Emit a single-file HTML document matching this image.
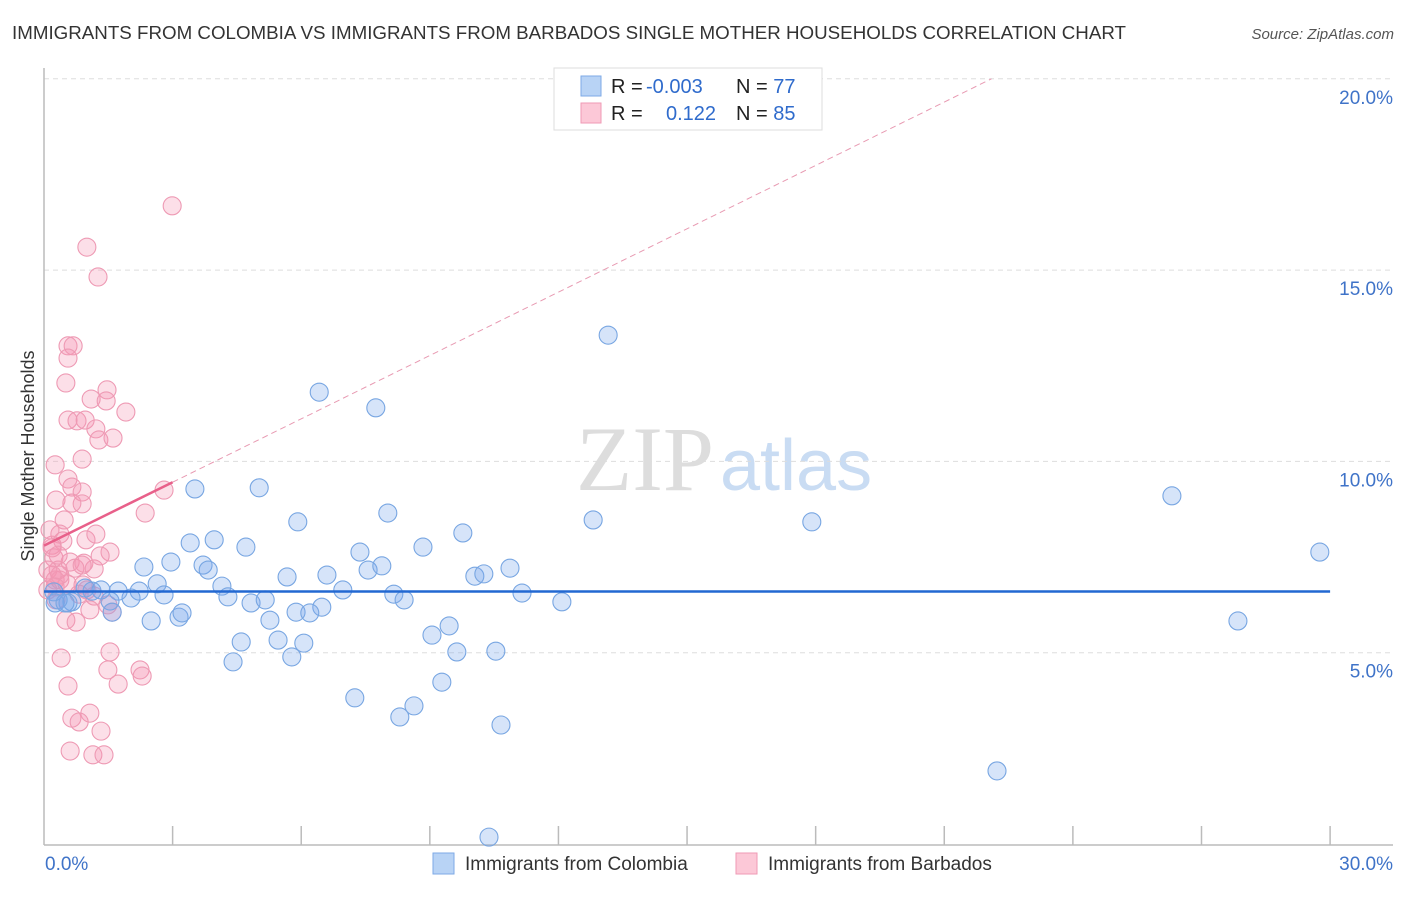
<!DOCTYPE html>
<html><head><meta charset="utf-8"><style>
body{margin:0;background:#fff;font-family:"Liberation Sans",sans-serif}
</style></head><body>
<svg id="c" width="1406" height="892" xmlns="http://www.w3.org/2000/svg">
<text x="12" y="39" font-size="18" fill="#333" textLength="1114" lengthAdjust="spacingAndGlyphs">IMMIGRANTS FROM COLOMBIA VS IMMIGRANTS FROM BARBADOS SINGLE MOTHER HOUSEHOLDS CORRELATION CHART</text>
<text x="1394" y="39" font-size="15" fill="#555" font-style="italic" text-anchor="end">Source: ZipAtlas.com</text>
<text x="714" y="490" font-size="92" fill="#ddd" text-anchor="end" font-family="Liberation Serif">ZIP</text>
<text x="720" y="490" font-size="72" fill="#c9dcf3">atlas</text>
<g id="grid"></g><g id="axes"></g><g id="pts"></g><g id="lines"></g>
<text x="34" y="456" font-size="18" fill="#333" text-anchor="middle" transform="rotate(-90 34 456)">Single Mother Households</text>
<g>
<rect x="554" y="68" width="268" height="62" fill="#fff" stroke="#ddd"/>
<rect x="581" y="76" width="20" height="20" fill="#b8d3f5" stroke="#7eaae6"/>
<rect x="581" y="103" width="20" height="20" fill="#fcc8d7" stroke="#ef9ab4"/>
<text x="611" y="93" font-size="20" fill="#222">R = <tspan fill="#2f6bcc" x="646">-0.003</tspan><tspan x="736">N = </tspan><tspan fill="#2f6bcc">77</tspan></text>
<text x="611" y="120" font-size="20" fill="#222">R = <tspan fill="#2f6bcc" x="666">0.122</tspan><tspan x="736">N = </tspan><tspan fill="#2f6bcc">85</tspan></text>
</g>
<g>
<rect x="433" y="853" width="21" height="21" fill="#b8d3f5" stroke="#7eaae6"/>
<text x="465" y="870" font-size="19" fill="#333">Immigrants from Colombia</text>
<rect x="736" y="853" width="21" height="21" fill="#fcc8d7" stroke="#ef9ab4"/>
<text x="768" y="870" font-size="19" fill="#333">Immigrants from Barbados</text>
</g>
</svg>
<script>
const yTicks=[5,10,15,20];
const yTickLabels=["5.0%","10.0%","15.0%","20.0%"];
const xTickCount=[0,3,6,9,12,15,18,21,24,27,30];
const blueX=[3.41,3.52,5.02,5.92,6.42,7.74,8.02,13.16,12.81,17.91,26.31,29.76,27.85,22.23,10.38,10.66,8.30,8.63,7.25,4.41,5.78,6.06,5.46,4.60,5.27,4.83,5.16,5.88,6.48,6.20,6.97,6.60,5.67,4.71,3.97,3.71,3.83,4.15,4.29,2.64,2.33,2.96,2.80,2.50,3.15,3.22,2.22,2.03,1.73,1.54,1.33,1.59,0.96,0.65,0.56,0.33,0.23,1.12,7.56,7.37,7.88,8.16,8.40,8.84,9.77,9.05,9.45,9.63,9.28,10.54,10.05,10.26,10.87,11.15,12.08,0.26,0.49];
const blueY=[7.87,9.28,9.31,8.42,11.81,11.40,8.65,13.30,8.47,8.42,9.10,7.63,5.83,1.91,0.18,3.11,3.32,3.61,3.82,4.76,4.89,5.25,5.33,5.28,5.85,6.30,6.38,6.06,6.19,6.04,6.64,7.03,6.98,7.76,7.95,7.29,7.16,6.74,6.46,6.80,7.24,7.37,6.51,5.83,5.93,6.04,6.61,6.43,6.61,6.35,6.64,6.06,6.69,6.33,6.30,6.38,6.59,6.61,7.16,7.63,7.27,6.53,6.38,7.76,8.13,5.46,5.70,5.02,4.23,5.04,7.00,7.06,7.21,6.56,6.33,6.30,6.30];
const pinkX=[0.56,0.68,0.56,0.51,1.10,1.47,1.45,1.91,0.56,0.77,0.96,1.21,1.28,1.61,0.26,0.56,0.65,0.89,0.89,0.89,0.28,0.65,0.98,0.47,0.37,1.21,1.54,0.44,0.19,0.23,0.33,0.61,0.93,0.09,0.26,0.37,0.09,0.72,0.54,1.17,0.91,1.00,1.49,1.59,0.51,0.75,1.54,0.40,1.49,2.24,2.29,0.56,1.73,0.65,1.07,0.82,1.33,0.61,1.14,1.40,2.99,1.00,1.26,2.80,2.36,1.17,0.14,0.19,0.28,0.37,0.19,0.33,1.31,0.82,0.26,1.07,0.89];
const pinkY=[13.02,13.02,12.70,12.05,11.63,11.87,11.58,11.29,11.08,11.06,11.08,10.85,10.56,10.61,9.91,9.54,9.33,10.06,9.20,8.89,8.99,8.91,7.95,8.47,8.10,8.10,7.63,7.92,7.81,7.48,7.16,7.37,7.34,7.16,6.90,6.90,6.64,7.21,6.80,7.19,6.77,6.64,6.25,6.06,5.85,5.80,5.02,4.86,4.55,4.55,4.39,4.13,4.18,3.29,3.42,3.19,2.95,2.43,2.33,2.33,16.68,15.60,14.82,9.25,8.65,6.48,8.21,7.74,6.38,7.03,7.03,7.55,7.53,6.53,6.72,6.12,7.29];
const blueFit=[6.6,6.6];
const pinkFit=[7.8,0.552];
const NS='http://www.w3.org/2000/svg';
const X=v=>44+v*42.87, Y=v=>844-v*38.26;
function mk(p,t,a){const e=document.createElementNS(NS,t);for(const k in a)e.setAttribute(k,a[k]);document.getElementById(p).appendChild(e);return e;}
yTicks.forEach((t,i)=>{
 const g=mk('grid','line',{x1:44,x2:1393,y1:Y(t),y2:Y(t),stroke:'#ddd','stroke-dasharray':'5,4'});
 
 
 const l=mk('grid','text',{x:1393,y:Y(t)+25,'font-size':19,fill:'#3f73c8','text-anchor':'end'});
 l.textContent=yTickLabels[i];
 
 
});
let a=mk('axes','line',{x1:44,x2:44,y1:68,y2:845,stroke:'#bbb','stroke-width':1.5});


a=mk('axes','line',{x1:44,x2:1393,y1:845,y2:845,stroke:'#bbb','stroke-width':1.5});


xTickCount.forEach(t=>{if(t===0)return;const e=mk('axes','line',{x1:X(t),x2:X(t),y1:826,y2:845,stroke:'#bbb','stroke-width':1.5});
 
 });
let t=mk('axes','text',{x:45,y:870,'font-size':19,fill:'#3f73c8'});t.textContent='0.0%';


t=mk('axes','text',{x:1393,y:870,'font-size':19,fill:'#3f73c8','text-anchor':'end'});t.textContent='30.0%';


pinkX.forEach((x,i)=>{const c=mk('pts','circle',{cx:X(x),cy:Y(pinkY[i]),r:9,fill:'rgba(244,150,180,0.3)',stroke:'#ee9ab4','stroke-width':1.1});
 
 });
blueX.forEach((x,i)=>{const c=mk('pts','circle',{cx:X(x),cy:Y(blueY[i]),r:9,fill:'rgba(120,165,235,0.3)',stroke:'#78a6e2','stroke-width':1.1});
 
 });
let ln=mk('lines','line',{x1:X(0),x2:X(30),y1:Y(blueFit[0]),y2:Y(blueFit[1]),stroke:'#2268d2','stroke-width':2.5});


const xe=(20-pinkFit[0])/pinkFit[1];
ln=mk('lines','line',{x1:X(3),x2:X(xe),y1:Y(pinkFit[0]+3*pinkFit[1]),y2:Y(20),stroke:'#e89ab2','stroke-width':1,'stroke-dasharray':'6,4'});


ln=mk('lines','line',{x1:X(0),x2:X(3),y1:Y(pinkFit[0]),y2:Y(pinkFit[0]+3*pinkFit[1]),stroke:'#e8608a','stroke-width':2.5});


</script>
</body></html>
